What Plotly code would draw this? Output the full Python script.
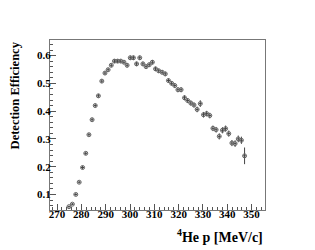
import plotly.graph_objects as go

# 4He momentum bin centres [MeV/c]
p_mev = [274.9, 276.3, 277.7, 279.1, 280.5, 281.8, 283.1, 284.4, 285.7, 287.0,
         288.4, 289.7, 291.0, 292.3, 293.6, 294.9, 296.2, 297.5, 298.8, 300.1,
         301.4, 302.7, 304.0, 305.3, 306.6, 307.9, 309.2, 310.5, 311.8, 313.2,
         314.5, 315.8, 317.1, 318.4, 319.7, 321.0, 322.4, 323.7, 325.0, 326.3,
         327.6, 328.9, 330.2, 331.5, 332.8, 334.1, 335.4, 336.7, 338.0, 339.3,
         340.6, 341.9, 343.2, 344.5, 345.8, 347.1]
efficiency = [0.056, 0.065, 0.100, 0.144, 0.197, 0.248, 0.315, 0.369, 0.420, 0.455,
              0.508, 0.537, 0.549, 0.565, 0.580, 0.580, 0.580, 0.576, 0.565, 0.592,
              0.592, 0.570, 0.592, 0.570, 0.560, 0.567, 0.576, 0.552, 0.545, 0.540,
              0.534, 0.510, 0.500, 0.492, 0.477, 0.477, 0.448, 0.438, 0.429, 0.422,
              0.406, 0.427, 0.387, 0.391, 0.384, 0.338, 0.333, 0.309, 0.331, 0.337,
              0.319, 0.285, 0.283, 0.300, 0.295, 0.239]
eff_err = [0.004, 0.004, 0.005, 0.005, 0.006, 0.006, 0.006, 0.007, 0.007, 0.007,
           0.007, 0.007, 0.007, 0.007, 0.007, 0.007, 0.007, 0.007, 0.008, 0.008,
           0.008, 0.008, 0.008, 0.008, 0.008, 0.008, 0.008, 0.008, 0.008, 0.008,
           0.008, 0.008, 0.008, 0.009, 0.009, 0.009, 0.009, 0.009, 0.009, 0.009,
           0.010, 0.012, 0.010, 0.010, 0.010, 0.010, 0.010, 0.011, 0.011, 0.011,
           0.011, 0.011, 0.012, 0.012, 0.013, 0.030]
p_halfwidth = [0.65] * len(p_mev)

x_ticks = [270, 280, 290, 300, 310, 320, 330, 340, 350]
y_ticks = [0.1, 0.2, 0.3, 0.4, 0.5, 0.6]

font_family = "Liberation Serif"

fig = go.Figure()
fig.add_trace(go.Scatter(
    x=p_mev, y=efficiency, mode="markers",
    marker=dict(symbol="circle-open", size=4, color="#666666", line=dict(width=1)),
    error_y=dict(type="data", array=eff_err, visible=True, color="#444444", thickness=1, width=0),
    error_x=dict(type="data", array=p_halfwidth, visible=True, color="#444444", thickness=1, width=0),
    showlegend=False,
))

axis_common = dict(
    showgrid=False, zeroline=False, showline=True, linecolor="#777777", linewidth=1,
    mirror=True, ticks="inside", ticklen=6, tickcolor="#555555", automargin=False,
    tickfont=dict(family=font_family, size=11, color="black", weight="bold"),
)

fig.update_xaxes(range=[267.1, 355.5], tickvals=x_ticks,
                 ticktext=[f"<b>{v}</b>" for v in x_ticks], ticklabelstandoff=-6,
                 minor=dict(dtick=2, ticks="inside", ticklen=3, tickcolor="#555555"),
                 **axis_common)
fig.update_yaxes(range=[0.044, 0.656], tickvals=y_ticks,
                 ticktext=[f"<b>{v:.1f}</b>" for v in y_ticks], ticklabelstandoff=-4,
                 minor=dict(dtick=0.02, ticks="inside", ticklen=3, tickcolor="#555555"),
                 **axis_common)

fig.add_annotation(text="<b><sup>4</sup>He p [MeV/c]</b>", xref="paper", yref="paper",
                   x=1.0, y=-0.09, xanchor="right", yanchor="top", showarrow=False,
                   font=dict(family=font_family, size=14, color="black"))
fig.add_annotation(text="<b>Detection Efficiency</b>", xref="paper", yref="paper",
                   x=-0.163, y=0.674, xanchor="center", yanchor="middle", textangle=-90,
                   showarrow=False, font=dict(family=font_family, size=12.5, color="black"))

fig.update_layout(
    width=315, height=250,
    margin=dict(l=42, r=58, t=32, b=48),
    paper_bgcolor="white", plot_bgcolor="white",
)

fig.write_html("out.html")
